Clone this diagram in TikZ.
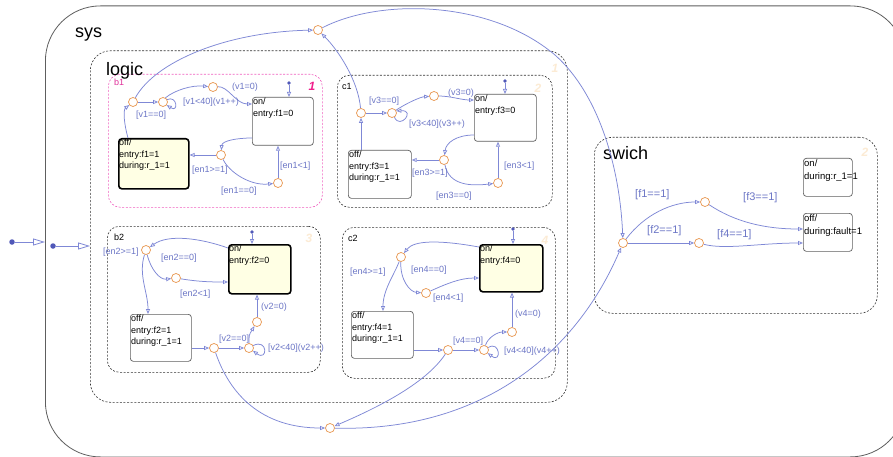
\documentclass[tikz,border=0pt]{standalone}
\usepackage{fontspec}
\setmainfont{Liberation Sans}
\usetikzlibrary{arrows.meta,calc}
\definecolor{tline}{HTML}{7F88D6}
\definecolor{tlabel}{HTML}{6C76C6}
\definecolor{junc}{HTML}{E8964E}
\definecolor{stgray}{HTML}{5E5E5E}
\definecolor{styellow}{HTML}{FFFFE4}
\definecolor{pinkdash}{HTML}{F060C0}
\definecolor{pinktext}{HTML}{E0309A}
\definecolor{magnum}{HTML}{F0208C}
\definecolor{faint}{HTML}{FCEBD4}
\definecolor{dotblue}{HTML}{5058B8}
\begin{document}
\begin{tikzpicture}[x=1pt,y=-1pt,
  every node/.style={font=\fontsize{9}{11.5}\selectfont},
  tr/.style={draw=tline, line width=0.75pt, -{Triangle[open,length=5pt,width=4pt]}},
  bigtr/.style={draw=tline, line width=0.8pt, -{Triangle[open,length=12pt,width=7pt]}},
  jn/.style={circle, draw=junc, fill=white, line width=0.7pt, minimum size=9pt, inner sep=0pt},
  dot/.style={circle, fill=dotblue, minimum size=3.8pt, inner sep=0pt},
  bigdot/.style={dot, minimum size=5.5pt},
  lbl/.style={text=tlabel, anchor=west, inner sep=0pt},
  biglbl/.style={lbl, font=\fontsize{11}{13}\selectfont},
  st/.style={draw=stgray, line width=0.7pt, rounded corners=3pt, anchor=north west, inner sep=0pt, fill=white},
  sta/.style={st, draw=black, line width=1.6pt, fill=styellow},
  sttext/.style={anchor=north west, align=left, inner sep=1pt},
  chart/.style={draw=black!80, dash pattern=on 2pt off 1.6pt, line width=0.6pt, anchor=north west, inner sep=0pt},
  title/.style={anchor=west, inner sep=0pt, font=\fontsize{18}{18}\selectfont},
  sub/.style={anchor=west, inner sep=0pt},
  num/.style={inner sep=0pt, text=faint, font=\fontsize{12}{12}\bfseries\itshape}
]
\fill[white] (0,0) rectangle (893,457);
\clip (0,0) rectangle (893,457);

% containers
\node[anchor=north west, draw=stgray, line width=0.8pt, rounded corners=55pt,
      minimum width=860pt, minimum height=451pt, inner sep=0pt] (sys) at (45,5.5) {};
\node[chart, rounded corners=20pt, minimum width=477pt, minimum height=351.5pt] (logic) at (90,50.5) {};
\node[chart, draw=pinkdash, rounded corners=12pt, minimum width=214pt, minimum height=133pt] (b1) at (108,74) {};
\node[chart, rounded corners=12pt, minimum width=215pt, minimum height=132pt] (c1) at (337,75) {};
\node[chart, rounded corners=12pt, minimum width=213pt, minimum height=146pt] (b2) at (107,226) {};
\node[chart, rounded corners=12pt, minimum width=213pt, minimum height=151pt] (c2) at (342,227) {};
\node[chart, rounded corners=18pt, minimum width=283pt, minimum height=176pt] (swich) at (594,137) {};

\node[title] (systitle) at (75,35) {sys};
\node[title] (logictitle) at (106,71) {logic};
\node[title] (swichtitle) at (603,153) {swich};
\node[sub, text=pinktext] (b1title) at (114,82) {b1};
\node[sub] (c1title) at (342,86) {c1};
\node[sub] (b2title) at (114,237) {b2};
\node[sub] (c2title) at (348,238) {c2};
\node[num] (logicnum) at (555,68) {1};
\node[num, text=magnum] (b1num) at (312,86) {1};
\node[num] (c1num) at (538,88) {2};
\node[num] (b2num) at (309,238) {3};
\node[num] (c2num) at (545,240) {4};
\node[num] (swichnum) at (865,152) {2};

% states
\node[st,  minimum width=61pt, minimum height=48pt] (b1on)  at (252,97) {};
\node[sta, minimum width=70pt, minimum height=50pt] (b1off) at (118,138) {};
\node[st,  minimum width=62pt, minimum height=47pt] (c1on)  at (474,94) {};
\node[st,  minimum width=63pt, minimum height=48pt] (c1off) at (348,150) {};
\node[sta, minimum width=62pt, minimum height=49pt] (b2on)  at (228,244) {};
\node[st,  minimum width=61pt, minimum height=47pt] (b2off) at (130,314) {};
\node[sta, minimum width=63pt, minimum height=47pt] (c2on)  at (479,244) {};
\node[st,  minimum width=62pt, minimum height=47pt] (c2off) at (351,311) {};
\node[st,  minimum width=49pt, minimum height=38pt] (swon)  at (803,158) {};
\node[st,  minimum width=49pt, minimum height=38pt] (swoff) at (803,213) {};

\node[sttext] (b1ontx)  at (b1on.north west)  {on/\\entry:f1=0};
\node[sttext] (b1offtx) at (b1off.north west) {off/\\entry:f1=1\\during:r\_1=1};
\node[sttext] (c1ontx)  at (c1on.north west)  {on/\\entry:f3=0};
\node[sttext] (c1offtx) at (c1off.north west) {off/\\entry:f3=1\\during:r\_1=1};
\node[sttext] (b2ontx)  at (b2on.north west)  {on/\\entry:f2=0};
\node[sttext] (b2offtx) at (b2off.north west) {off/\\entry:f2=1\\during:r\_1=1};
\node[sttext] (c2ontx)  at (c2on.north west)  {on/\\entry:f4=0};
\node[sttext] (c2offtx) at (c2off.north west) {off/\\entry:f4=1\\during:r\_1=1};
\node[sttext, font=\fontsize{9.5}{13}\selectfont] (swontx)  at (swon.north west)  {on/\\during:r\_1=1};
\node[sttext, font=\fontsize{9.5}{13}\selectfont] (swofftx) at (swoff.north west) {off/\\during:fault=1};

% junctions
\node[jn] (J1) at (133,102) {};
\node[jn] (J2) at (163,102) {};
\node[jn] (J3) at (213,87) {};
\node[jn] (J4) at (221,155) {};
\node[jn] (J5) at (278,183) {};
\node[jn] (K1) at (361,113) {};
\node[jn] (K2) at (392,113) {};
\node[jn] (K3) at (434,96) {};
\node[jn] (K4) at (444,160) {};
\node[jn] (K5) at (498,183) {};
\node[jn] (L1) at (146,250) {};
\node[jn] (L2) at (176,278) {};
\node[jn] (L3) at (257,322) {};
\node[jn] (L4) at (214,348) {};
\node[jn] (L5) at (249,348) {};
\node[jn] (M1) at (401,257) {};
\node[jn] (M2) at (426,293) {};
\node[jn] (M3) at (512,332) {};
\node[jn] (M4) at (448,350) {};
\node[jn] (M5) at (484,350) {};
\node[jn] (T)  at (318,30) {};
\node[jn] (B)  at (330,428) {};
\node[jn] (SJ) at (623,243) {};
\node[jn] (SJ1) at (705,202) {};
\node[jn] (SJ2) at (699,243) {};

% default transitions
\node[bigdot] (sysdef) at (12,242) {};
\node[bigdot] (logicdef) at (53,246) {};
\node[dot] (b1def) at (289,83) {};
\node[dot] (c1def) at (505,81) {};
\node[dot] (b2def) at (252,232) {};
\node[dot] (c2def) at (513,229) {};
\draw[bigtr] (sysdef) -- (sysdef -| sys.west);
\draw[bigtr] (logicdef) -- (logicdef -| logic.west);
\draw[tr] (b1def) -- (b1def |- b1on.north);
\draw[tr] (c1def) -- (c1def |- c1on.north);
\draw[tr] (b2def) -- (b2def |- b2on.north);
\draw[tr] (c2def) -- (c2def |- c2on.north);

% b1
\draw[tr] ($(b1off.north west)+(10,0)$) .. controls (124,124) and (123,110) .. (J1);
\draw[tr] (J1) -- (J2);
\draw[tr] (J2.30) .. controls (177,95) and (179,113) .. (J2.-40);
\draw[tr] (J2.60) .. controls (175,90) and (192,85) .. (J3);
\draw[tr] (J3) .. controls (228,86) and (236,104) .. ($(b1on.north west)+(0,7)$);
\draw[tr] ($(b1on.north west)+(0,41)$) .. controls (236,138) and (222,141) .. (J4);
\draw[tr] (J4) -- (J4 -| b1off.east);
\draw[tr] (J4) .. controls (229,172) and (250,186) .. (J5);
\draw[tr] (J5) -- (J5 |- b1on.south);
\draw[tr] (J1) .. controls (155,62) and (225,32) .. (T);

% c1
\draw[tr] ($(c1off.north west)+(13,0)$) -- (K1);
\draw[tr] (K1) -- (K2);
\draw[tr] (K2.-60) .. controls (400,130) and (416,110) .. (K2.25);
\draw[tr] (K2) .. controls (405,104) and (420,97) .. (K3);
\draw[tr] (K3) .. controls (450,96) and (462,100) .. ($(c1on.north west)+(0,6)$);
\draw[tr] ($(c1on.north west)+(0,41)$) .. controls (456,135) and (446,143) .. (K4);
\draw[tr] (K4) -- (K4 -| c1off.east);
\draw[tr] (K4) .. controls (449,186) and (472,186) .. (K5);
\draw[tr] (K5) -- (K5 |- c1on.south);
\draw[tr] (K1) .. controls (358,80) and (338,50) .. (T);

% b2
\draw[tr] ($(b2on.north west)+(0,4)$) .. controls (200,238) and (168,234) .. (L1);
\draw[tr] (L1) .. controls (138,275) and (148,292) .. ($(b2off.north west)+(18,0)$);
\draw[tr] (L1) .. controls (151,270) and (160,280) .. (L2);
\draw[tr] (L2) .. controls (200,282) and (214,282) .. ($(b2on.north west)+(0,38)$);
\draw[tr] (b2off.east |- L4) -- (L4);
\draw[tr] (L4) -- (L5);
\draw[tr] (L5.30) .. controls (268,338) and (268,362) .. (L5.-35);
\draw[tr] (L5) .. controls (249,335) .. (L3);
\draw[tr] (L3) -- (L3 |- b2on.south);
\draw[tr] (L4) .. controls (230,395) and (262,428) .. (B);

% c2
\draw[tr] ($(c2on.north west)+(0,3)$) .. controls (440,240) and (414,240) .. (M1);
\draw[tr] (M1) .. controls (394,275) and (383,290) .. ($(c2off.north west)+(32,0)$);
\draw[tr] (M1) .. controls (400,280) and (410,292) .. (M2);
\draw[tr] (M2) .. controls (446,284) and (460,278) .. ($(c2on.north west)+(0,34)$);
\draw[tr] (c2off.east |- M4) -- (M4);
\draw[tr] (M4) -- (M5);
\draw[tr] (M5.30) .. controls (500,340) and (502,364) .. (M5.-40);
\draw[tr] (M5) .. controls (488,337) and (498,332) .. (M3);
\draw[tr] (M3) -- (M3 |- c2on.south);
\draw[tr] (M4) .. controls (425,385) and (372,410) .. (B);

% outputs of logic into swich
\draw[tr] (T) .. controls (380,-2) and (490,0) .. (555,55) .. controls (600,95) and (620,170) .. (SJ);
\draw[tr] (B) .. controls (480,432) and (575,355) .. (SJ);

% swich
\draw[tr] (SJ) .. controls (645,214) and (672,202) .. (SJ1);
\draw[tr] (SJ) -- (SJ2);
\draw[tr] (SJ1) .. controls (735,222) and (765,229) .. ($(swoff.north west)+(0,16)$);
\draw[tr] (SJ2) .. controls (725,250) and (760,243) .. ($(swoff.north west)+(0,30)$);

% transition labels
\node[lbl] (t1) at (136,115) {[v1==0]};
\node[lbl] (t2) at (183,102) {[v1<40](v1++)};
\node[lbl] (t3) at (232,87) {(v1=0)};
\node[lbl] (t4) at (192,170) {[en1>=1]};
\node[lbl] (t5) at (280,166) {[en1<1]};
\node[lbl] (t6) at (221,191) {[en1==0]};
\node[lbl] (t7) at (369,101) {[v3==0]};
\node[lbl] (t8) at (448,93) {(v3=0)};
\node[lbl] (t9) at (409,124) {[v3<40](v3++)};
\node[lbl] (t10) at (412,173) {[en3>=1]};
\node[lbl] (t11) at (504,166) {[en3<1]};
\node[lbl] (t12) at (436,196) {[en3==0]};
\node[lbl] (t13) at (103,252) {[en2>=1]};
\node[lbl] (t14) at (161,258) {[en2==0]};
\node[lbl] (t15) at (180,294) {[en2<1]};
\node[lbl] (t16) at (261,307) {(v2=0)};
\node[lbl] (t17) at (219,339) {[v2==0]};
\node[lbl] (t18) at (268,348) {[v2<40](v2++)};
\node[lbl] (t19) at (350,272) {[en4>=1]};
\node[lbl] (t20) at (411,270) {[en4==0]};
\node[lbl] (t21) at (433,298) {[en4<1]};
\node[lbl] (t22) at (515,314) {(v4=0)};
\node[lbl] (t23) at (453,341) {[v4==0]};
\node[lbl] (t24) at (504,351) {[v4<40](v4++)};
\node[biglbl] (t25) at (635,195) {[f1==1]};
\node[biglbl] (t26) at (647,231) {[f2==1]};
\node[biglbl] (t27) at (743,198) {[f3==1]};
\node[biglbl] (t28) at (717,235) {[f4==1]};
\end{tikzpicture}
\end{document}
